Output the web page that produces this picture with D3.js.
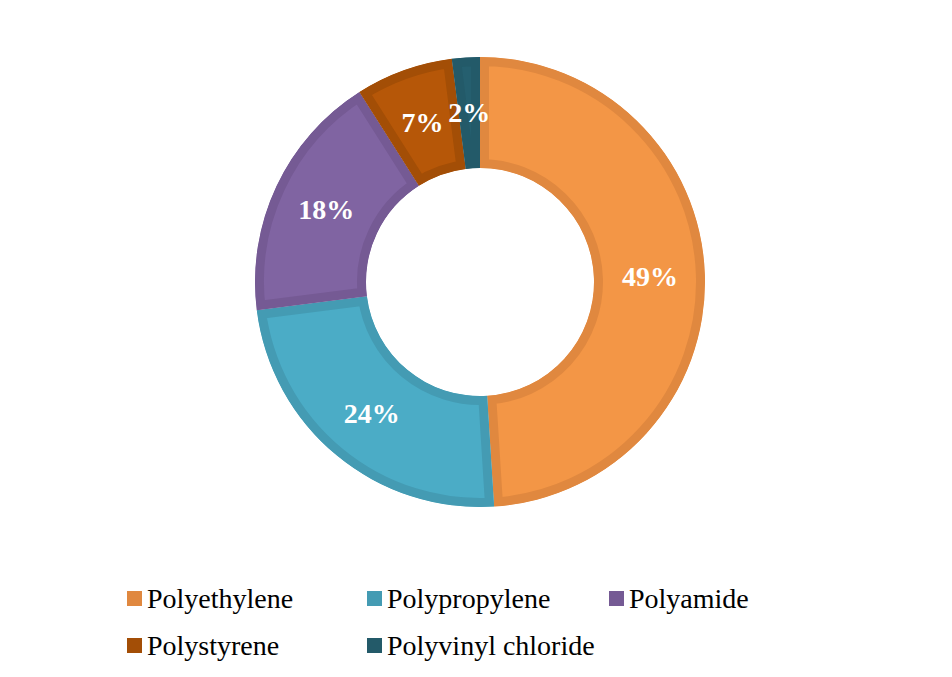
<!DOCTYPE html>
<html>
<head>
<meta charset="utf-8">
<script src="https://cdn.jsdelivr.net/npm/d3@7"></script>
<style>
  body { margin: 0; background: #fff; }
  svg { display: block; }
</style>
</head>
<body>
<svg id="canvas" width="952" height="677"></svg>
<script>
// chart data
let categories = ['Polyethylene', 'Polypropylene', 'Polyamide', 'Polystyrene', 'Polyvinyl chloride'];
let shares = [49, 24, 18, 7, 2];
let fills = ['#f39646', '#4bacc6', '#8064a2', '#b65708', '#255f6f'];
let strokes = ['#e0883f', '#449bb3', '#755a94', '#a34e06', '#235a69'];

let serif = '"Times New Roman", "Liberation Serif", Times, serif';
let canvas = d3.select('#canvas');

// donut geometry
let cx = 480, cy = 282;
let sw = 9; // visible border width (drawn inside each slice)

let pie = d3.pie().sort(null).value(d => d.v);
let arc = d3.arc().innerRadius(114).outerRadius(225);
let labelArc = d3.arc().innerRadius(170).outerRadius(170);

let rows = categories.map((c, i) => ({name: c, v: shares[i], fill: fills[i], stroke: strokes[i]}));
let slices = pie(rows);

let defs = canvas.append('defs');
defs.selectAll('clipPath')
    .data(slices)
    .enter()
    .append('clipPath')
    .attr('id', (d, i) => 'clip' + i)
    .append('path')
    .attr('d', arc);

let g = canvas.append('g').attr('transform', `translate(${cx},${cy})`);

g.selectAll('path.slice')
    .data(slices)
    .enter()
    .append('path')
    .classed('slice', true)
    .attr('d', arc)
    .attr('clip-path', (d, i) => `url(#clip${i})`)
    .attr('fill', d => d.data.fill)
    .attr('stroke', d => d.data.stroke)
    .attr('stroke-width', sw * 2)
    .attr('stroke-linejoin', 'miter');

g.selectAll('text.lbl')
    .data(slices)
    .enter()
    .append('text')
    .classed('lbl', true)
    .attr('transform', d => `translate(${labelArc.centroid(d)})`)
    .attr('text-anchor', 'middle')
    .attr('dy', '0.35em')
    .style('font-family', serif)
    .attr('font-weight', 'bold')
    .attr('font-size', 28)
    .attr('fill', '#fff')
    .text(d => d.data.v + '%');

// legend
let legendPos = [
    {x: 127, y: 598}, {x: 367, y: 598}, {x: 609, y: 598},
    {x: 127, y: 645}, {x: 367, y: 645}
];

let legend = canvas.selectAll('g.leg')
    .data(rows)
    .enter()
    .append('g')
    .classed('leg', true)
    .attr('transform', (d, i) => `translate(${legendPos[i].x},${legendPos[i].y})`);

legend.append('rect')
    .attr('x', 0)
    .attr('y', -7)
    .attr('width', 15)
    .attr('height', 15)
    .attr('fill', d => d.stroke);

legend.append('text')
    .attr('x', 20)
    .attr('dy', '0.35em')
    .style('font-family', serif)
    .attr('font-size', 28)
    .attr('fill', '#000')
    .text(d => d.name);
</script>
</body>
</html>
